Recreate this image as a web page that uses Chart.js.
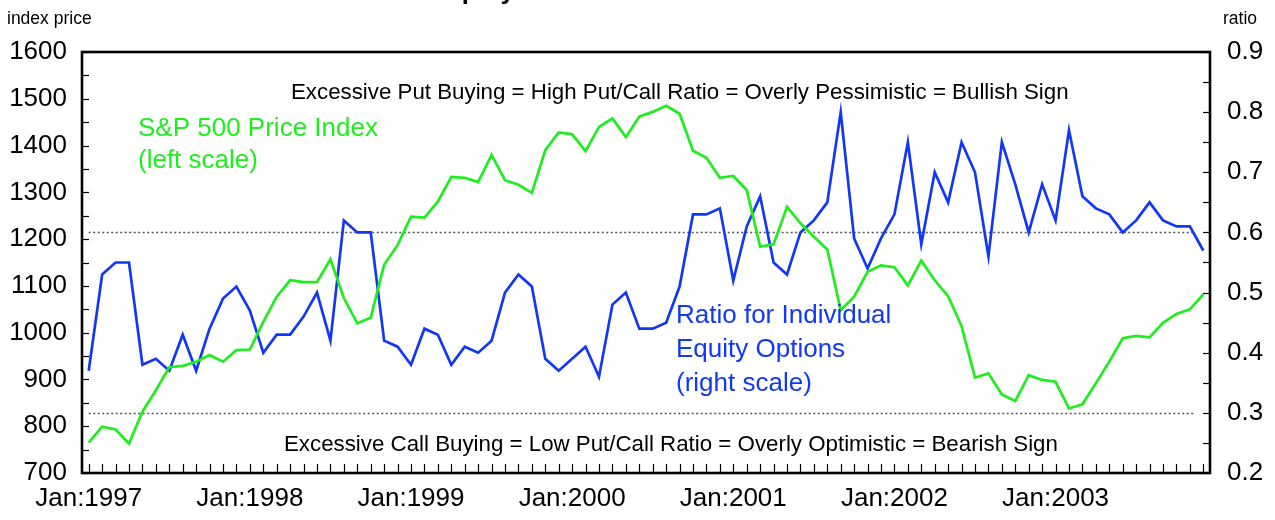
<!DOCTYPE html>
<html>
<head>
<meta charset="utf-8">
<script src="https://cdn.jsdelivr.net/npm/chart.js@4.4.1/dist/chart.umd.min.js"></script>
<style>
  body { margin: 0; background: #fff; }
  canvas { display: block; }
</style>
</head>
<body>
<canvas id="chart" width="1275" height="520"></canvas>
<script>
// Monthly data, Jan 1997 - Dec 2003
const years = [1997, 1998, 1999, 2000, 2001, 2002, 2003];
const months = ['Jan', 'Feb', 'Mar', 'Apr', 'May', 'Jun', 'Jul', 'Aug', 'Sep', 'Oct', 'Nov', 'Dec'];

// S&P 500 price index (left scale)
const spIndex = [
    765, 799, 793, 763, 831, 877, 926, 929, 938, 952, 938, 963,
    964, 1023, 1077, 1112, 1108, 1108, 1157, 1074, 1020, 1032, 1145, 1187,
    1248, 1246, 1280, 1333, 1331, 1322, 1380, 1326, 1316, 1299, 1390, 1428,
    1424, 1388, 1440, 1458, 1418, 1462, 1472, 1485, 1468, 1389, 1374, 1331,
    1335, 1305, 1184, 1189, 1269, 1234, 1205, 1178, 1048, 1077, 1130, 1144,
    1140, 1101, 1154, 1112, 1078, 1014, 904, 913, 868, 854, 909, 899,
    895, 838, 847, 892, 938, 988, 993, 990, 1021, 1040, 1050, 1082
];

// Put/call ratio for individual equity options (right scale)
const putCallRatio = [
    0.37, 0.53, 0.55, 0.55, 0.38, 0.39, 0.37, 0.43, 0.37, 0.44, 0.49, 0.51,
    0.47, 0.40, 0.43, 0.43, 0.46, 0.50, 0.42, 0.62, 0.60, 0.60, 0.42, 0.41,
    0.38, 0.44, 0.43, 0.38, 0.41, 0.40, 0.42, 0.50, 0.53, 0.51, 0.39, 0.37,
    0.39, 0.41, 0.36, 0.48, 0.50, 0.44, 0.44, 0.45, 0.51, 0.63, 0.63, 0.64,
    0.52, 0.61, 0.66, 0.55, 0.53, 0.60, 0.62, 0.65, 0.80, 0.59, 0.54, 0.59,
    0.63, 0.75, 0.58, 0.70, 0.65, 0.75, 0.70, 0.56, 0.75, 0.68, 0.60, 0.68,
    0.62, 0.77, 0.66, 0.64, 0.63, 0.60, 0.62, 0.65, 0.62, 0.61, 0.61, 0.57
];

const leftTicks = [700, 800, 900, 1000, 1100, 1200, 1300, 1400, 1500, 1600];
const rightTicks = [0.2, 0.3, 0.4, 0.5, 0.6, 0.7, 0.8, 0.9];
const thresholds = [0.6, 0.3];

const categories = [];
years.forEach(y => months.forEach(m => categories.push(m + ':' + y)));

const FONT = 'Arial, "Liberation Sans", sans-serif';
const GREEN = '#1eee1e';
const BLUE = '#1238f5';

// Frame, inner tick marks, threshold lines and text notes
const decorations = {
    id: 'decorations',
    beforeDatasetsDraw(chart) {
        const { ctx, scales } = chart;
        ctx.save();
        ctx.strokeStyle = '#555';
        ctx.lineWidth = 1.5;
        ctx.setLineDash([2, 2.5]);
        const x0 = scales.x.getPixelForValue(0);
        const x1 = scales.x.getPixelForValue(categories.length - 1);
        thresholds.forEach(t => {
            const y = Math.round(scales.yR.getPixelForValue(t)) + 0.5;
            ctx.beginPath();
            ctx.moveTo(x0, y);
            ctx.lineTo(x1 - 8, y);
            ctx.stroke();
        });
        ctx.restore();
    },
    afterDatasetsDraw(chart) {
        const { ctx, chartArea: a, scales } = chart;
        ctx.save();
        ctx.strokeStyle = '#000';
        ctx.lineWidth = 1.2;

        // month ticks along the bottom
        categories.forEach((c, i) => {
            const x = Math.round(scales.x.getPixelForValue(i)) + 0.5;
            ctx.beginPath();
            ctx.moveTo(x, a.bottom);
            ctx.lineTo(x, a.bottom - 9);
            ctx.stroke();
        });
        // left axis ticks every 50
        for (let v = 700; v <= 1600; v += 50) {
            const y = Math.round(scales.yL.getPixelForValue(v)) + 0.5;
            ctx.beginPath();
            ctx.moveTo(a.left, y);
            ctx.lineTo(a.left + 7, y);
            ctx.stroke();
        }
        // right axis ticks every 0.05
        for (let k = 4; k <= 18; k++) {
            const y = Math.round(scales.yR.getPixelForValue(k * 0.05)) + 0.5;
            ctx.beginPath();
            ctx.moveTo(a.right, y);
            ctx.lineTo(a.right - 7, y);
            ctx.stroke();
        }

        // frame
        ctx.lineWidth = 2.6;
        ctx.strokeRect(a.left, a.top, a.right - a.left, a.bottom - a.top);

        // notes
        ctx.fillStyle = '#000';
        ctx.textAlign = 'left';
        ctx.textBaseline = 'alphabetic';
        ctx.font = '22.3px ' + FONT;
        ctx.fillText('Excessive Put Buying = High Put/Call Ratio = Overly Pessimistic = Bullish Sign', 291, 99);
        ctx.fillText('Excessive Call Buying = Low Put/Call Ratio = Overly Optimistic = Bearish Sign', 284, 451);

        ctx.font = '26px ' + FONT;
        ctx.fillStyle = GREEN;
        ctx.fillText('S&P 500 Price Index', 138, 136);
        ctx.fillText('(left scale)', 138, 168);

        ctx.fillStyle = BLUE;
        ctx.fillText('Ratio for Individual', 676, 323);
        ctx.fillText('Equity Options', 676, 357);
        ctx.fillText('(right scale)', 676, 391);

        // axis units
        ctx.fillStyle = '#000';
        ctx.font = '17.5px ' + FONT;
        ctx.fillText('index price', 7, 24);
        ctx.fillText('ratio', 1223, 24);

        // title, cut off by the top edge
        ctx.font = 'bold 26px ' + FONT;
        ctx.textAlign = 'right';
        ctx.fillText('Put/Call Ratio for Individual Equity', 515, -1);
        ctx.restore();
    }
};

new Chart(document.getElementById('chart'), {
    type: 'line',
    data: {
        labels: categories,
        datasets: [
            {
                label: 'S&P 500 Price Index',
                data: spIndex,
                yAxisID: 'yL',
                borderColor: GREEN,
                borderWidth: 2.7,
                pointRadius: 0,
                tension: 0
            },
            {
                label: 'Ratio for Individual Equity Options',
                data: putCallRatio,
                yAxisID: 'yR',
                borderColor: BLUE,
                borderWidth: 2.7,
                pointRadius: 0,
                tension: 0
            }
        ]
    },
    options: {
        responsive: false,
        animation: false,
        devicePixelRatio: 1,
        layout: { padding: { top: 52, left: 0, right: 0, bottom: 0 } },
        plugins: {
            legend: { display: false },
            tooltip: { enabled: false }
        },
        scales: {
            x: {
                type: 'category',
                offset: true,
                grid: { display: false, drawTicks: false, tickLength: 0 },
                border: { display: false },
                ticks: {
                    autoSkip: false,
                    maxRotation: 0,
                    padding: 10,
                    color: '#000',
                    font: { family: FONT, size: 26 },
                    callback: (v, i) => (i % 12 === 0 ? categories[i] : '')
                },
                afterFit: s => { s.height = 47; }
            },
            yL: {
                position: 'left',
                min: leftTicks[0],
                max: leftTicks[leftTicks.length - 1],
                afterBuildTicks: s => { s.ticks = leftTicks.map(v => ({ value: v })); },
                grid: { display: false, drawTicks: false, tickLength: 0 },
                border: { display: false },
                ticks: {
                    padding: 15,
                    color: '#000',
                    font: { family: FONT, size: 26 },
                    callback: v => String(v)
                },
                afterFit: s => { s.width = 82; }
            },
            yR: {
                position: 'right',
                min: rightTicks[0],
                max: rightTicks[rightTicks.length - 1],
                afterBuildTicks: s => { s.ticks = rightTicks.map(v => ({ value: v })); },
                grid: { display: false, drawTicks: false, tickLength: 0 },
                border: { display: false },
                ticks: {
                    padding: 17,
                    color: '#000',
                    font: { family: FONT, size: 26 },
                    callback: v => v.toFixed(1)
                },
                afterFit: s => { s.width = 65; }
            }
        }
    },
    plugins: [decorations]
});
</script>
</body>
</html>
